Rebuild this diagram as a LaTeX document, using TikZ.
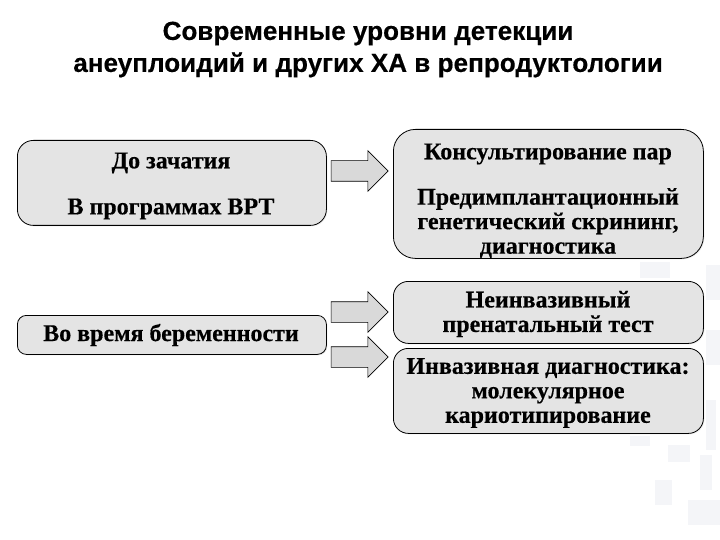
\documentclass[tikz,border=0pt]{standalone}
\usepackage{fontspec}
\setmainfont[BoldFeatures={FakeBold=0.4}]{Liberation Serif}
\newfontfamily\titlefont[BoldFeatures={FakeBold=0.3}]{Liberation Sans}
\usetikzlibrary{shapes.arrows,shadows}
\definecolor{boxgray}{HTML}{E4E4E4}
\definecolor{ghost}{HTML}{F4F5F8}
\tikzset{
  x=1pt,y=-1pt,
  card/.style={draw=black,line width=0.8pt,fill=boxgray,rounded corners=#1,anchor=north west,inner sep=0pt,
    drop shadow={shadow xshift=1pt,shadow yshift=-1pt,fill=black!12,opacity=0.6}},
  cardtext/.style={font=\fontsize{24}{24.5}\selectfont\bfseries,align=center,text=black},
  titletext/.style={font=\fontsize{26.1}{32}\selectfont\titlefont\bfseries,align=center,text=black},
  blockarrow/.style={single arrow,draw=black,line width=0.6pt,fill=boxgray!95!black,minimum width=40pt,minimum height=57pt,
    single arrow head extend=10pt,single arrow tip angle=90,inner xsep=0pt,inner ysep=10pt,anchor=center},
  ghostblock/.style={fill=ghost}
}
\begin{document}
\begin{tikzpicture}
\useasboundingbox (0,0) rectangle (720,540);
\fill[white] (0,0) rectangle (720,540);
% faint background texture at the right edge
\fill[ghostblock] (706,265) rectangle (720,300);
\fill[ghostblock] (706,330) rectangle (720,365);
\fill[ghostblock] (706,400) rectangle (716,450);
\fill[ghostblock] (668,445) rectangle (690,462);
\fill[ghostblock] (700,455) rectangle (712,490);
\fill[ghostblock] (655,480) rectangle (672,505);
\fill[ghostblock] (688,500) rectangle (720,525);
\fill[ghostblock] (630,436) rectangle (650,446);
\fill[ghostblock] (640,262) rectangle (670,278);

\node[titletext] (title) at (368,49.5) {Современные уровни детекции\\анеуплоидий и других ХА в репродуктологии};

\node[card=16pt,minimum width=309pt,minimum height=85pt] (before) at (17,140) {};
\node[cardtext] (t1) at (171,163) {До зачатия};
\node[cardtext] (t2) at (171,209) {В программах ВРТ};
\node[card=9pt,minimum width=309pt,minimum height=39pt] (during) at (17,315) {};
\node[cardtext] (t3) at (171,335) {Во время беременности};

\node[card=22pt,minimum width=310pt,minimum height=129pt] (r1) at (393,129) {};
\node[cardtext] (t4) at (548,154) {Консультирование пар};
\node[cardtext] (t5) at (548,223) {Предимплантационный\\генетический скрининг,\\диагностика};
\node[card=15pt,minimum width=310pt,minimum height=62pt] (r2) at (393,281) {};
\node[cardtext] (t6) at (548,314) {Неинвазивный\\пренатальный тест};
\node[card=15pt,minimum width=310pt,minimum height=85pt] (r3) at (393,348) {};
\node[cardtext] (t7) at (548,393) {Инвазивная диагностика:\\молекулярное\\кариотипирование};

\node[blockarrow] (a1) at (354.5,171) {};
\node[blockarrow] (a2) at (354.5,312) {};
\node[blockarrow] (a3) at (354.5,357) {};
\end{tikzpicture}
\end{document}
